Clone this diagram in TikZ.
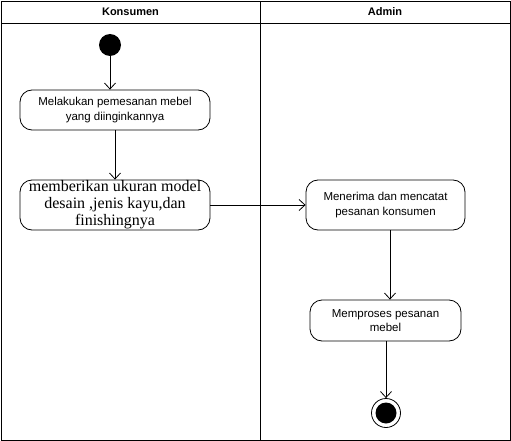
\documentclass[tikz,border=0pt]{standalone}
\usepackage{fontspec}
\setmainfont{Liberation Sans}
\newfontfamily\timesfont{Liberation Serif}
\usetikzlibrary{arrows.meta}
\tikzset{
	activity/.style={draw,thick,rounded corners=12pt,align=center,font=\fontsize{11.5}{14.5}\selectfont},
	flow/.style={thick,-{Straight Barb[length=6pt,width=11pt]}},
	lane/.style={draw,thick},
	lanehead/.style={font=\bfseries\fontsize{11}{13}\selectfont}
}
\begin{document}
\begin{tikzpicture}[x=1pt,y=-1pt]
		\useasboundingbox (0,0) rectangle (511,441);
		% swimlanes
		\draw[lane] (1,1) rectangle (260,440) (260,1) rectangle (510,440);
		\draw[lane] (1,23) -- (510,23);
		\node[lanehead] (konsumen) at (130.5,12) {Konsumen};
		\node[lanehead] (admin) at (385,12) {Admin};
		% start and end
		\node[circle,fill,inner sep=0pt,minimum size=22pt] (start) at (110,45) {};
		\node[circle,draw,thick,inner sep=0pt,minimum size=29pt] (end) at (386,413) {};
		\node[circle,fill,inner sep=0pt,minimum size=21pt] at (end) {};
		% activities
		\node[activity,minimum width=190pt,minimum height=40pt] (pesan) at (115,110) {Melakukan pemesanan mebel\\yang diinginkannya};
		\node[activity,minimum width=190pt,minimum height=50pt,inner ysep=0pt,font=\timesfont\fontsize{16}{17}\selectfont] (ukuran) at (115,205) {memberikan ukuran model\\desain ,jenis kayu,dan\\finishingnya};
		\node[activity,minimum width=159pt,minimum height=50pt] (catat) at (385.5,205) {Menerima dan mencatat\\pesanan konsumen};
		\node[activity,minimum width=151pt,minimum height=41pt] (proses) at (385.5,320.5) {Memproses pesanan\\mebel};
		% flows
		\draw[flow] (start) -- (start |- pesan.north);
		\draw[flow] (pesan) -- (ukuran);
		\draw[flow] (ukuran) -- (catat);
		\draw[flow] (catat.south -| 390,0) -- (proses.north -| 390,0);
		\draw[flow] (proses.south -| end) -- (end);
	\end{tikzpicture}
\end{document}
